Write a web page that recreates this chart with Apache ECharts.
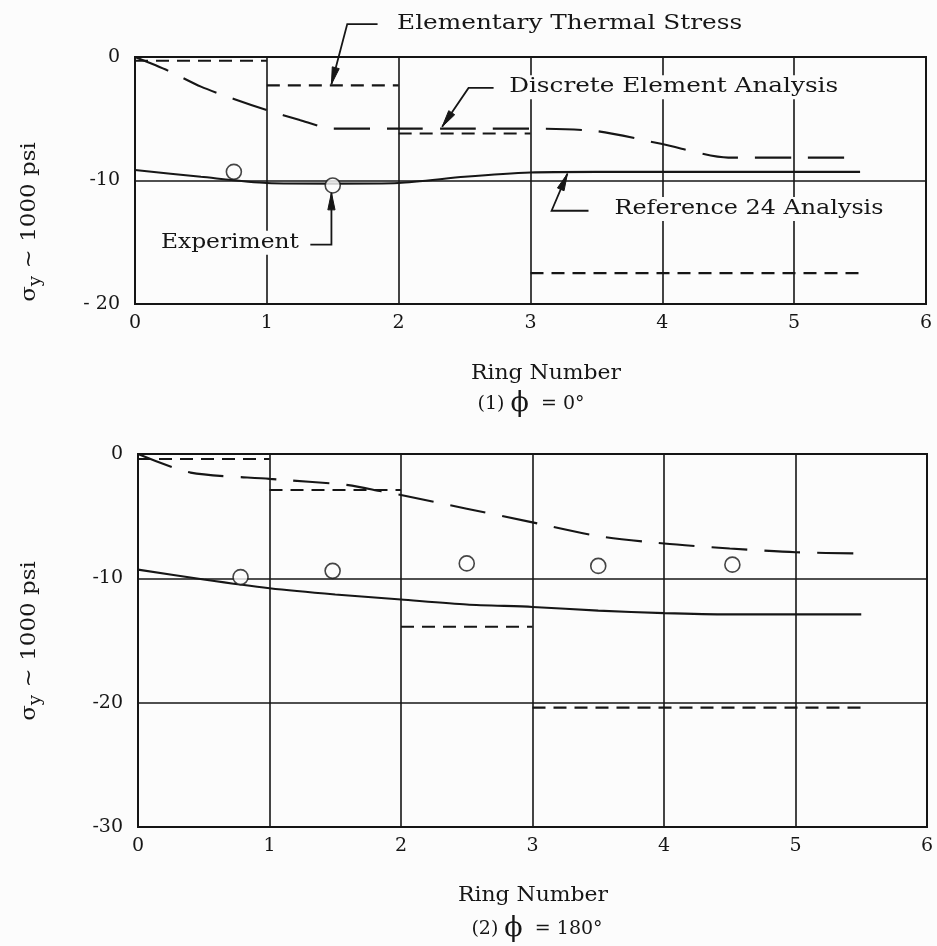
<!DOCTYPE html>
<html>
<head>
<meta charset="utf-8">
<script src="https://cdn.jsdelivr.net/npm/echarts@6/dist/echarts.min.js"></script>
<style>
  html, body { margin: 0; padding: 0; background: #fcfcfc; }
  #chart { width: 937px; height: 946px; }
</style>
</head>
<body>
<div id="chart"></div>
<script>
// Longitudinal stress sigma_y (1000 psi) against ring number, two meridians.

// ---- axis ticks ----
const ringTicks = [0, 1, 2, 3, 4, 5, 6];
const topYLabels = { '0': '0', '-10': '-10', '-20': '- 20' };
const botYLabels = { '0': '0', '-10': '-10', '-20': '-20', '-30': '-30' };

// ---- (1) phi = 0 deg ----
const refTopX  = [0, 0.5, 1, 1.5, 2, 2.5, 3, 3.5, 4, 4.5, 5, 5.5];
const refTopY  = [-9.15, -9.7, -10.2, -10.25, -10.2, -9.7, -9.35, -9.3, -9.3, -9.3, -9.3, -9.3];
const discTopX = [0, 0.25, 0.5, 0.75, 1, 1.25, 1.5, 2, 2.5, 3, 3.5, 4, 4.5, 5, 5.5];
const discTopY = [0, -1.1, -2.4, -3.4, -4.3, -5.1, -5.8, -5.8, -5.8, -5.8, -6.0, -7.05, -8.15, -8.15, -8.15];
const elemTopFrom = [0, 1, 2, 3];
const elemTopTo   = [1, 2, 3, 5.5];
const elemTopY    = [-0.3, -2.3, -6.2, -17.5];
const expTopX = [0.75, 1.5];
const expTopY = [-9.3, -10.4];

// ---- (2) phi = 180 deg ----
const refBotX  = [0, 0.5, 1, 1.5, 2, 2.5, 3, 3.5, 4, 4.5, 5, 5.5];
const refBotY  = [-9.3, -10.1, -10.8, -11.3, -11.7, -12.1, -12.3, -12.6, -12.8, -12.9, -12.9, -12.9];
const discBotX = [0, 0.4, 1, 1.6, 1.85, 2, 2.5, 3, 3.5, 4, 4.5, 5, 5.5];
const discBotY = [0, -1.5, -2.0, -2.5, -3.0, -3.3, -4.4, -5.5, -6.6, -7.2, -7.6, -7.9, -8.0];
const elemBotFrom = [0, 1, 2, 3];
const elemBotTo   = [1, 2, 3, 5.5];
const elemBotY    = [-0.4, -2.9, -13.9, -20.4];
const expBotX = [0.78, 1.48, 2.5, 3.5, 4.52];
const expBotY = [-9.9, -9.4, -8.8, -9.0, -8.9];

const INK = '#161616';
const PAPER = '#fcfcfc';
const SERIF = '"DejaVu Serif", "Liberation Serif", serif';
const LONG_DASH = [36, 17];
const SHORT_DASH = [13, 8];

const chart = echarts.init(document.getElementById('chart'), null, { renderer: 'canvas' });

function pairs(xs, ys) { return xs.map((x, i) => [x, ys[i]]); }

function curve(xs, ys, g, dash) {
  return {
    type: 'line', xAxisIndex: g, yAxisIndex: g, data: pairs(xs, ys),
    symbol: 'none', smooth: 0.25, silent: true, z: 3,
    lineStyle: { color: INK, width: 2.1, type: dash }
  };
}

function steps(from, to, ys, g) {
  return from.map((x0, i) => ({
    type: 'line', xAxisIndex: g, yAxisIndex: g,
    data: [[x0, ys[i]], [to[i], ys[i]]],
    symbol: 'none', silent: true, z: 3,
    lineStyle: { color: INK, width: 2.1, type: SHORT_DASH }
  }));
}

function points(xs, ys, g) {
  return {
    type: 'scatter', xAxisIndex: g, yAxisIndex: g, data: pairs(xs, ys),
    symbol: 'circle', symbolSize: 15, silent: true, z: 5,
    itemStyle: { color: PAPER, borderColor: INK, borderWidth: 1.6 }
  };
}

function xAxisFor(g) {
  return {
    gridIndex: g, type: 'value', min: ringTicks[0], max: ringTicks[ringTicks.length - 1], interval: 1,
    axisLine: { show: false }, axisTick: { show: false },
    splitLine: { show: true, lineStyle: { color: INK, width: 1.6 } },
    axisLabel: { color: INK, fontFamily: SERIF, fontSize: 19, margin: 10 }
  };
}

function yAxisFor(g, min, labels) {
  return {
    gridIndex: g, type: 'value', min: min, max: 0, interval: 10,
    axisLine: { show: false }, axisTick: { show: false },
    splitLine: { show: true, lineStyle: { color: INK, width: 1.6 } },
    axisLabel: { color: INK, fontFamily: SERIF, fontSize: 19, margin: 15,
                 formatter: v => labels[String(v)] }
  };
}

chart.setOption({
  animation: false,
  backgroundColor: PAPER,
  grid: [
    { left: 135, top: 57, width: 791, height: 247, show: true, borderColor: INK, borderWidth: 2 },
    { left: 138, top: 454, width: 789, height: 373, show: true, borderColor: INK, borderWidth: 2 }
  ],
  xAxis: [xAxisFor(0), xAxisFor(1)],
  yAxis: [yAxisFor(0, -20, topYLabels), yAxisFor(1, -30, botYLabels)],
  series: [
    curve(refTopX, refTopY, 0, 'solid'),
    curve(discTopX, discTopY, 0, LONG_DASH),
    ...steps(elemTopFrom, elemTopTo, elemTopY, 0),
    points(expTopX, expTopY, 0),
    curve(refBotX, refBotY, 1, 'solid'),
    curve(discBotX, discBotY, 1, LONG_DASH),
    ...steps(elemBotFrom, elemBotTo, elemBotY, 1),
    points(expBotX, expBotY, 1)
  ]
});

// ---- captions, leader lines and axis titles ----
const measureCtx = document.createElement('canvas').getContext('2d');
function textWidth(str, size) {
  measureCtx.font = size + 'px "DejaVu Serif"';
  return measureCtx.measureText(str).width;
}

const notes = [
  { text: 'Elementary Thermal Stress', at: [1.96, 2.67], align: 'left', span: 345,
    path: [[1.84, 2.67], [1.61, 2.67], [1.49, -2.2]] },
  { text: 'Discrete Element Analysis', at: [2.81, -2.45], align: 'left', span: 329,
    path: [[2.72, -2.5], [2.53, -2.5], [2.33, -5.65]] },
  { text: 'Reference 24 Analysis', at: [3.61, -12.3], align: 'left', span: 269,
    path: [[3.44, -12.45], [3.16, -12.45], [3.28, -9.45]] },
  { text: 'Experiment', at: [1.27, -15.05], align: 'right', span: 138,
    path: [[1.33, -15.2], [1.49, -15.2], [1.49, -11.0]] }
];

const px = (g, p) => chart.convertToPixel({ gridIndex: g }, p);
const graphics = [];

function arrowHead(tip, from, len, half) {
  const dx = tip[0] - from[0], dy = tip[1] - from[1];
  const d = Math.hypot(dx, dy) || 1;
  const ux = dx / d, uy = dy / d;
  const bx = tip[0] - ux * len, by = tip[1] - uy * len;
  return [tip, [bx - uy * half, by + ux * half], [bx + uy * half, by - ux * half]];
}

notes.forEach(n => {
  const pts = n.path.map(p => px(0, p));
  graphics.push({
    type: 'polyline', z: 20, silent: true,
    shape: { points: pts },
    style: { stroke: INK, lineWidth: 1.8, fill: null }
  });
  graphics.push({
    type: 'polygon', z: 21, silent: true,
    shape: { points: arrowHead(pts[pts.length - 1], pts[pts.length - 2], 17, 3.6) },
    style: { fill: INK, stroke: INK, lineWidth: 1 }
  });
  const at = px(0, n.at);
  const size = 20;
  graphics.push({
    type: 'text', z: 22, silent: true, x: at[0], y: at[1],
    scaleX: n.span / textWidth(n.text, size),
    style: { text: n.text, fill: INK, fontSize: size, fontFamily: SERIF,
             align: n.align, textAlign: n.align, verticalAlign: 'middle', textVerticalAlign: 'middle',
             backgroundColor: PAPER, padding: [2, 3] }
  });
});

// axis titles
function centeredText(str, x, y, size, span) {
  return {
    type: 'text', z: 22, silent: true, x: x, y: y,
    scaleX: span ? span / textWidth(str, size) : 1,
    style: { text: str, fill: INK, fontSize: size, fontFamily: SERIF,
             align: 'center', textAlign: 'center', verticalAlign: 'middle', textVerticalAlign: 'middle' }
  };
}
function phiCaption(prefix, angle, x, y) {
  return {
    type: 'text', z: 22, silent: true, x: x, y: y,
    style: {
      text: prefix + ' {p|\u03D5}  = ' + angle + '\u00B0',
      fill: INK, fontSize: 19, fontFamily: SERIF,
      align: 'center', textAlign: 'center', verticalAlign: 'middle', textVerticalAlign: 'middle',
      rich: { p: { fontSize: 27, fontFamily: SERIF, fill: INK } }
    }
  };
}
function sigmaTitle(x, y) {
  return {
    type: 'text', z: 22, silent: true, x: x, y: y, rotation: Math.PI / 2, scaleX: 1.15,
    style: {
      text: '{s|\u03C3}{y|y} ~ 1000 psi',
      fill: INK, fontSize: 20, fontFamily: SERIF,
      align: 'center', textAlign: 'center', verticalAlign: 'middle', textVerticalAlign: 'middle',
      rich: {
        s: { fontSize: 20, fontFamily: SERIF, fill: INK },
        y: { fontSize: 16, fontFamily: SERIF, fill: INK, padding: [12, 0, 0, 0] }
      }
    }
  };
}

graphics.push(centeredText('Ring Number', 546, 374, 20, 150));
graphics.push(phiCaption('(1)', '0', 531, 404));
graphics.push(centeredText('Ring Number', 533, 896, 20, 150));
graphics.push(phiCaption('(2)', '180', 537, 929));
graphics.push(sigmaTitle(30, 222));
graphics.push(sigmaTitle(30, 641));

chart.setOption({ graphic: { elements: graphics } });
</script>
</body>
</html>
